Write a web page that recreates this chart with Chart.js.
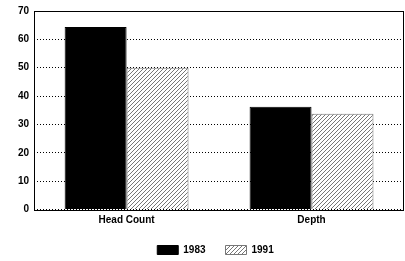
<!DOCTYPE html>
<html>
<head>
<meta charset="utf-8">
<script src="https://cdn.jsdelivr.net/npm/chart.js@4"></script>
<style>
  html, body { margin: 0; padding: 0; background: #fff; }
  #wrap { width: 405px; height: 261px; }
</style>
</head>
<body>
<div id="wrap"><canvas id="myChart" width="405" height="261"></canvas></div>
<script>
const categories = ['Head Count', 'Depth'];
const seriesNames = ['1983', '1991'];
const values1983 = [64.4, 36.2];
const values1991 = [50.0, 33.8];
const yTicks = [0, 10, 20, 30, 40, 50, 60, 70];

// diagonal hatch for the 1991 bars
function hatch() {
  const c = document.createElement('canvas');
  c.width = 4; c.height = 4;
  const g = c.getContext('2d');
  g.fillStyle = '#fff';
  g.fillRect(0, 0, 4, 4);
  g.strokeStyle = '#777';
  g.lineWidth = 1;
  g.beginPath();
  g.moveTo(0, 4); g.lineTo(4, 0);
  g.moveTo(-1, 1); g.lineTo(1, -1);
  g.moveTo(3, 5); g.lineTo(5, 3);
  g.stroke();
  return g.createPattern(c, 'repeat');
}

// black box round the plot area
const frame = {
  id: 'frame',
  afterDraw(chart) {
    const a = chart.chartArea, g = chart.ctx;
    g.save();
    g.strokeStyle = '#000';
    g.lineWidth = 1;
    g.strokeRect(Math.round(a.left) + 0.5, Math.round(a.top) + 0.5,
      Math.round(a.right - a.left) - 1, Math.round(a.bottom - a.top));
    g.restore();
  }
};

// legend sits a bit right of the canvas centre
const nudge = {
  id: 'nudge',
  afterLayout(chart) {
    if (chart.legend) { chart.legend.left += 7; chart.legend.right += 7; }
  }
};

const font = { family: 'Liberation Sans', size: 10, weight: 'bold' };

new Chart(document.getElementById('myChart'), {
  type: 'bar',
  data: {
    labels: categories,
    datasets: [
      {
        label: seriesNames[0],
        data: values1983,
        backgroundColor: '#000',
        borderColor: '#000',
        borderWidth: 1
      },
      {
        label: seriesNames[1],
        data: values1991,
        backgroundColor: hatch(),
        borderColor: '#777',
        borderWidth: 1
      }
    ]
  },
  options: {
    responsive: false,
    animation: false,
    layout: { padding: { top: 6, right: 1, left: 13, bottom: -4 } },
    datasets: { bar: { categoryPercentage: 0.67, barPercentage: 1 } },
    scales: {
      x: {
        grid: { display: false, tickLength: 0 },
        border: { display: false },
        ticks: { color: '#000', font: font, padding: 4.5 },
        afterFit: (s) => { s.height -= 5.5; }
      },
      y: {
        min: 0, max: 70,
        afterBuildTicks: (s) => { s.ticks = yTicks.map(v => ({ value: v })); },
        border: { display: false, dash: [1, 2] },
        grid: { color: '#000', lineWidth: 1, tickLength: 0 },
        ticks: { color: '#000', font: font, padding: 5 }
      }
    },
    plugins: {
      legend: {
        position: 'bottom',
        labels: {
          color: '#000', font: font,
          boxWidth: 21, boxHeight: 9, padding: 20
        }
      },
      tooltip: { enabled: false }
    }
  },
  plugins: [frame, nudge]
});
</script>
</body>
</html>
